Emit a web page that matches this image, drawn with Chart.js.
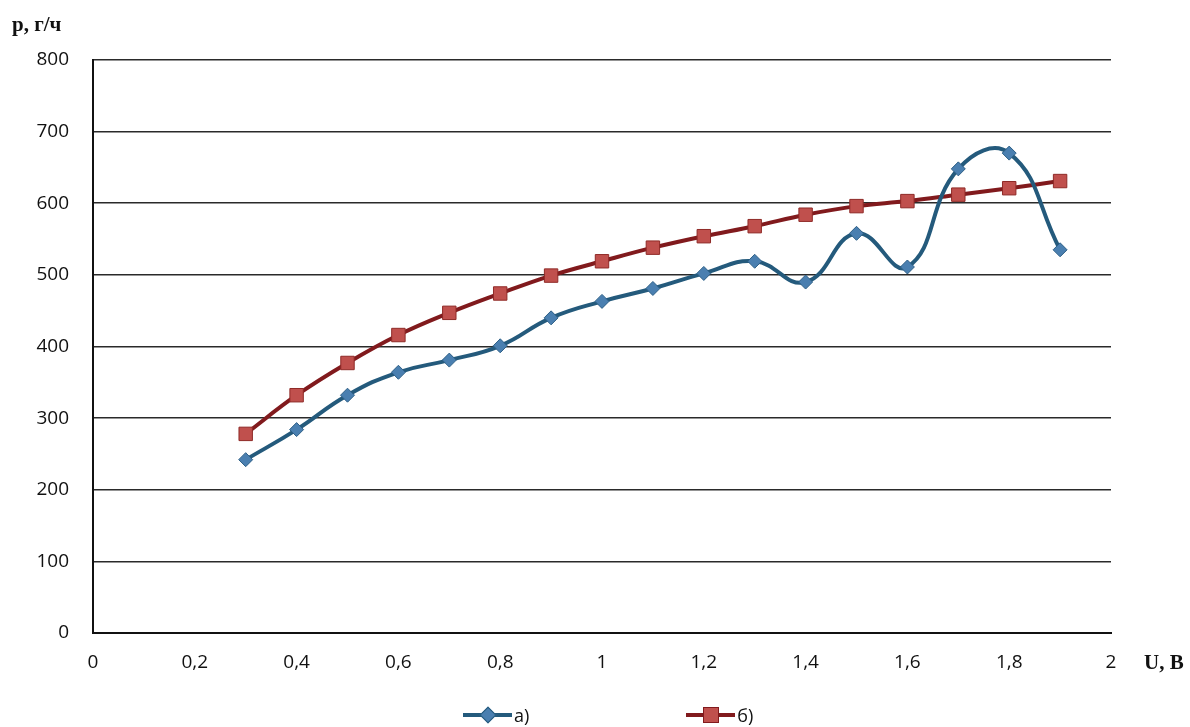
<!DOCTYPE html>
<html lang="ru">
<head>
<meta charset="utf-8">
<title>p(U)</title>
<script src="https://cdn.jsdelivr.net/npm/chart.js@4.4.1/dist/chart.umd.min.js"></script>
<style>
  html, body { margin: 0; padding: 0; background: #fff; }
  #wrap { position: relative; width: 1190px; height: 727px; }
  #legend {
    position: absolute; left: 463px; top: 703px; line-height: 24px;
    display: flex; gap: 157px;
    font: 18px "Open Sans", "Liberation Sans", sans-serif; color: #111;
  }
  .item { display: flex; align-items: center; }
  .line { position: relative; width: 49px; height: 4px; margin-right: 2px; }
  .mk { position: absolute; top: 50%; left: 50%; }
</style>
</head>
<body>
<div id="wrap">
  <canvas id="chart" width="1190" height="727"></canvas>
  <div id="legend"></div>
</div>
<script>
'use strict';

// напряжение U, В
const U_VALUES = [0.3, 0.4, 0.5, 0.6, 0.7, 0.8, 0.9, 1.0, 1.1, 1.2, 1.3, 1.4, 1.5, 1.6, 1.7, 1.8, 1.9];
// производительность p, г/ч
const SERIES_A = [242, 284, 332, 364, 381, 401, 440, 463, 481, 502, 519, 490, 558, 511, 648, 670, 535];
const SERIES_B = [278, 332, 377, 416, 447, 474, 499, 519, 538, 554, 568, 584, 596, 603, 612, 621, 631];
const SERIES_NAMES = ['а)', 'б)'];

const Y_TITLE = 'р, г/ч';
const X_TITLE = 'U, B';

const COLOR_A = '#245a7c', MARK_A = '#4a7fb0';
const COLOR_B = '#811a1d', MARK_B = '#c0504d';
const TICK_FONT = { family: '"Open Sans", "Liberation Sans", sans-serif', size: 19 };

const toPoints = ys => ys.map((y, i) => ({ x: U_VALUES[i], y }));

// подписи осей (как в Excel — жирный шрифт с засечками)
const axisTitles = {
  id: 'axisTitles',
  afterDraw(chart) {
    const { ctx } = chart;
    ctx.save();
    ctx.fillStyle = '#111';
    ctx.font = 'bold 21px "Liberation Serif", "DejaVu Serif", serif';
    ctx.textBaseline = 'middle';
    ctx.textAlign = 'left';
    ctx.fillText(Y_TITLE, 12, 26);
    ctx.fillText(X_TITLE, 1144, 664);
    ctx.restore();
  },
};

const fmtComma = v => String(+Number(v).toFixed(1)).replace('.', ',');

new Chart(document.getElementById('chart'), {
  type: 'line',
  data: {
    datasets: [
      {
        label: SERIES_NAMES[0],
        data: toPoints(SERIES_A),
        borderColor: COLOR_A,
        borderWidth: 4,
        tension: 0.45,
        pointStyle: 'rectRot',
        pointRadius: 7,
        pointBackgroundColor: MARK_A,
        pointBorderColor: '#2d5f86',
        pointBorderWidth: 1,
      },
      {
        label: SERIES_NAMES[1],
        data: toPoints(SERIES_B),
        borderColor: COLOR_B,
        borderWidth: 4,
        tension: 0.4,
        pointStyle: 'rect',
        pointRadius: 9.5,
        pointBackgroundColor: MARK_B,
        pointBorderColor: '#8f2a27',
        pointBorderWidth: 1,
      },
    ],
  },
  options: {
    responsive: false,
    animation: false,
    layout: { padding: { top: 60, right: 79, left: 0, bottom: 0 } },
    plugins: { legend: { display: false }, tooltip: { enabled: false } },
    scales: {
      x: {
        type: 'linear',
        min: 0, max: 2,
        afterFit: s => { s.height = 94; },
        ticks: {
          stepSize: 0.2,
          padding: 18,
          color: '#111',
          font: TICK_FONT,
          callback: fmtComma,
          maxRotation: 0,
        },
        grid: { display: false, drawTicks: false },
        border: { display: true, color: '#111', width: 2 },
      },
      y: {
        min: 0, max: 800,
        afterFit: s => { s.width = 93; },
        ticks: {
          stepSize: 100,
          padding: 24,
          color: '#111',
          font: TICK_FONT,
        },
        grid: { color: '#2a2a2a', lineWidth: 1.6, drawTicks: false },
        border: { display: true, color: '#111', width: 2 },
      },
    },
  },
  plugins: [axisTitles],
});

// легенда: линия с маркером, как в Excel
function buildLegend() {
  const items = [
    { name: SERIES_NAMES[0], line: COLOR_A, fill: MARK_A, size: 10, rot: 45 },
    { name: SERIES_NAMES[1], line: COLOR_B, fill: MARK_B, size: 14, rot: 0 },
  ];
  document.getElementById('legend').innerHTML = items.map(it => `
    <span class="item">
      <span class="line" style="background:${it.line}">
        <span class="mk" style="width:${it.size}px;height:${it.size}px;background:${it.fill};
          border:1px solid ${it.line};transform:translate(-50%,-50%) rotate(${it.rot}deg)"></span>
      </span>
      <span>${it.name}</span>
    </span>`).join('');
}
buildLegend();
</script>
</body>
</html>
